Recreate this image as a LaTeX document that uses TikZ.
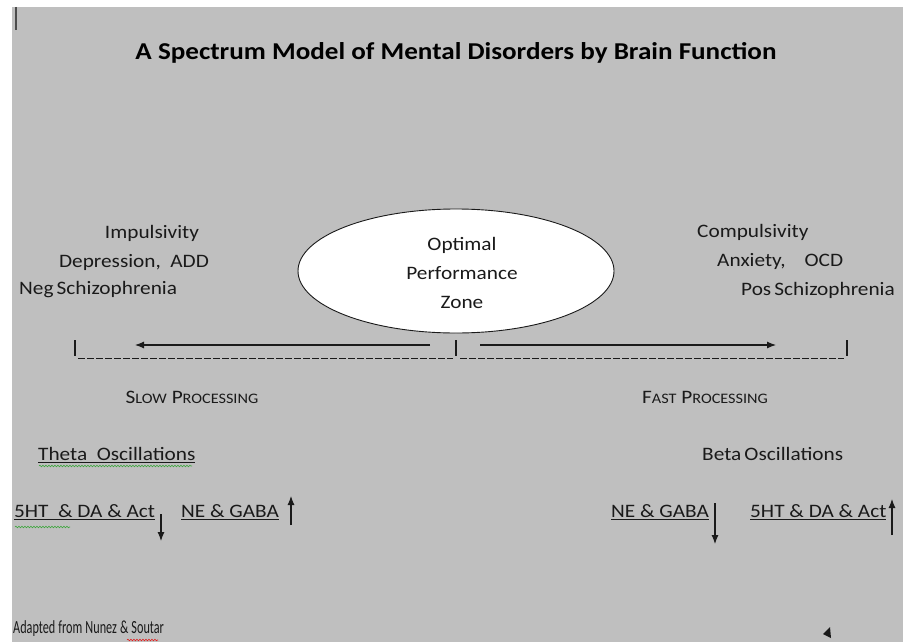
\documentclass[tikz,border=0pt]{standalone}
\usepackage{fontspec}
\setmainfont[FakeStretch=1.12]{Carlito}
\newfontfamily\condfont[FakeStretch=0.66]{Carlito}
\usetikzlibrary{arrows.meta,decorations.pathmorphing}
\definecolor{bg}{HTML}{BFBFBF}
\definecolor{ink}{HTML}{1A1A1A}
\definecolor{spellgreen}{HTML}{3DA63D}
\definecolor{spellred}{HTML}{E02020}
\begin{document}
\begin{tikzpicture}[x=1pt,y=-1pt,
  txt/.style={inner sep=0pt,text=ink,font=\fontsize{19}{23}\selectfont},
  ttl/.style={inner sep=0pt,text=black,font=\fontsize{24.2}{28}\selectfont\bfseries},
  arr/.style={draw=ink,line width=1.1pt,-{Latex[length=9pt,width=7pt]}},
  bar/.style={draw=ink,line width=1.3pt},
  wavy/.style={decorate,decoration={snake,amplitude=0.8pt,segment length=3pt},line width=0.6pt}]
\useasboundingbox (0,0) rectangle (905,642);
\fill[white] (0,0) rectangle (905,642);
\fill[bg] (12,7) rectangle (903,642);
% cursor mark
\draw[line width=2.2pt,draw=black!70] (16,7) -- (16,30);
% title
\node[ttl] (title) at (456,53) {A Spectrum Model of Mental Disorders by Brain Function};
% ellipse
\draw[fill=white,draw=ink,line width=0.9pt] (456,271) ellipse [x radius=158,y radius=62];
\node[txt] (opt) at (462,245) {Optimal};
\node[txt] (perf) at (462,273) {Performance};
\node[txt] (zone) at (462,302) {Zone};
% left labels
\node[txt] (imp) at (152,233) {Impulsivity};
\node[txt] (dep) at (134,262) {Depression,\enspace ADD};
\node[txt,anchor=west] (neg) at (19,290) {Neg\,Schizophrenia};
% right labels
\node[txt,anchor=west] (comp) at (697,232) {Compulsivity};
\node[txt,anchor=west] (anx) at (717,261) {Anxiety,\quad OCD};
\node[txt,anchor=west] (pos) at (741,290) {Pos\,Schizophrenia};
% axis
\coordinate (lb) at (75,340);
\coordinate (mb) at (456,340);
\coordinate (rb) at (847,340);
\draw[bar] (lb) -- ++(0,16);
\draw[bar] (mb) -- ++(0,16);
\draw[bar] (rb) -- ++(0,16);
\draw[draw=ink,line width=1pt,dash pattern=on 7pt off 2pt] (78,358) -- (453,358);
\draw[draw=ink,line width=1pt,dash pattern=on 7pt off 2pt] (460,358) -- (844,358);
\coordinate (la0) at (430,345);
\coordinate (la1) at (135,345);
\coordinate (ra0) at (480,345);
\coordinate (ra1) at (776,345);
\draw[arr] (la0) -- (la1);
\draw[arr] (ra0) -- (ra1);
% processing
\node[txt] (slow) at (192,397) {S{\fontsize{14.5}{17}\selectfont LOW} P{\fontsize{14.5}{17}\selectfont ROCESSING}};
\node[txt] (fast) at (705,397) {F{\fontsize{14.5}{17}\selectfont AST} P{\fontsize{14.5}{17}\selectfont ROCESSING}};
% oscillations
\node[txt,anchor=west] (theta) at (38,455) {\underline{Theta\enspace Oscillations}};
\draw[wavy,draw=spellgreen] (39,466) -- (192,466);
\node[txt,anchor=west] (beta) at (702,454) {Beta\,Oscillations};
% neurotransmitters left
\node[txt,anchor=west] (lsht) at (14,512) {\underline{5HT\enspace\&\ DA \& Act}};
\draw[wavy,draw=spellgreen] (15,527) -- (70,527);
\coordinate (ld0) at (161,514);
\coordinate (ld1) at (161,541);
\draw[arr] (ld0) -- (ld1);
\node[txt,anchor=west] (lne) at (181,512) {\underline{NE \& GABA}};
\coordinate (lu0) at (291,525);
\coordinate (lu1) at (291,496);
\draw[arr] (lu0) -- (lu1);
% neurotransmitters right
\node[txt,anchor=west] (rne) at (611,512) {\underline{NE \& GABA}};
\coordinate (rd0) at (715,503);
\coordinate (rd1) at (715,544);
\draw[arr] (rd0) -- (rd1);
\node[txt,anchor=west] (rsht) at (750,512) {\underline{5HT \& DA \& Act}};
\coordinate (ru0) at (892,535);
\coordinate (ru1) at (892,499);
\draw[arr] (ru0) -- (ru1);
% footer
\node[inner sep=0pt,text=ink,anchor=west,font=\condfont\fontsize{18.5}{22}\selectfont] (adapt) at (13,629) {Adapted\,from\,Nunez\,\&\,Soutar};
\draw[wavy,draw=spellred] (127,640) -- (158,640);
\fill[ink] (823,634) -- (830,627) -- (831,638) -- cycle;
\end{tikzpicture}
\end{document}
